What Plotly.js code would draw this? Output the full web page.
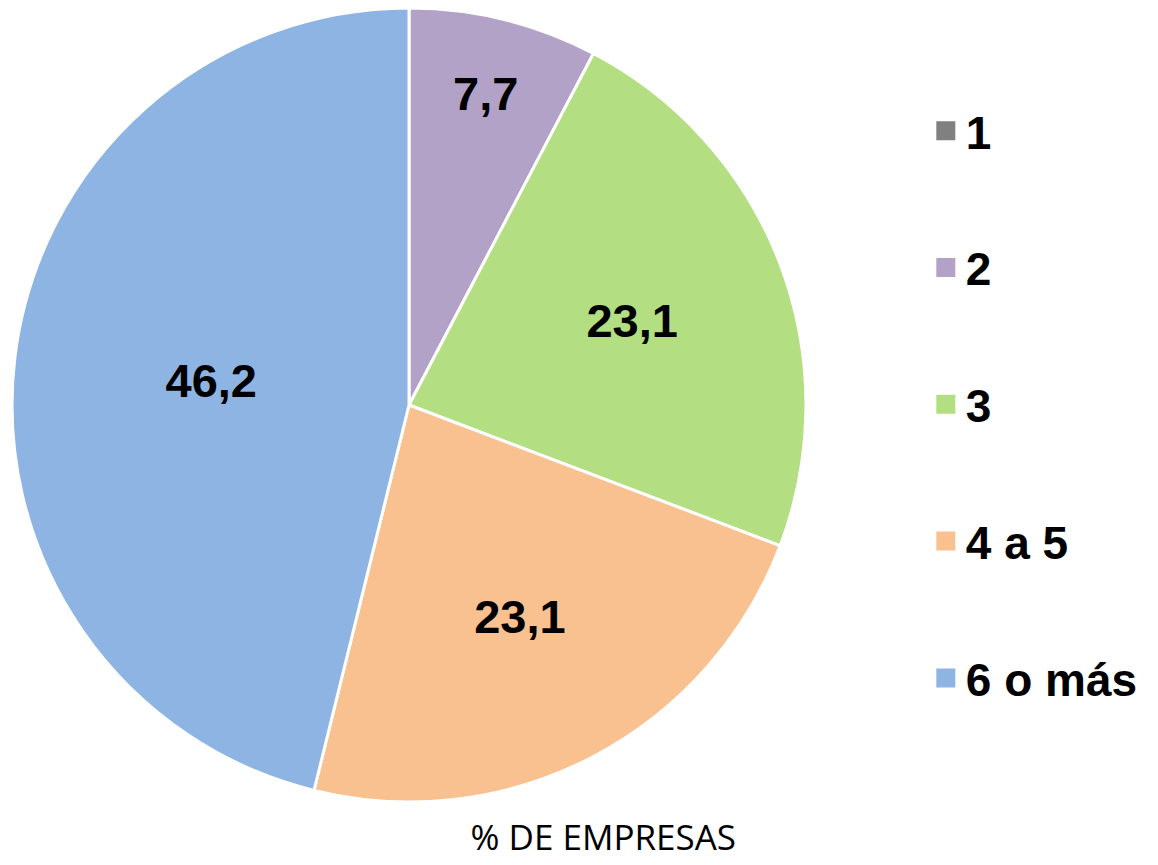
<!DOCTYPE html>
<html><head><meta charset="utf-8">
<script src="https://cdn.plot.ly/plotly-3.0.1.min.js"></script>
<style>html,body{margin:0;padding:0;background:#fff}</style>
</head><body>
<div id="chart" style="width:1158px;height:865px"></div>
<script>
const categories = ["1", "2", "3", "4 a 5", "6 o más"];
const values = [0, 7.7, 23.1, 23.1, 46.2];
const valueLabels = ["", "7,7", "23,1", "23,1", "46,2"];
const colors = ["#808080", "#B3A2C7", "#B3DE81", "#F9C090", "#8EB4E3"];
const axisTitle = "% DE EMPRESAS";

const pie = {
  type: "pie",
  labels: categories,
  values: values,
  text: valueLabels,
  textinfo: "text",
  textposition: "inside",
  insidetextorientation: "horizontal",
  sort: false,
  direction: "clockwise",
  rotation: 0,
  showlegend: false,
  marker: {colors: colors, line: {color: "#ffffff", width: 3}},
  textfont: {family: "Liberation Sans, Arial, sans-serif", size: 47, color: "#000000", weight: "bold"},
  domain: {x: [0.0104, 0.696], y: [0.0728, 0.9908]},
  hoverinfo: "label+value"
};

const legendTraces = categories.map((c, i) => ({
  type: "scatter",
  mode: "markers",
  x: [null], y: [null],
  name: c,
  legendgroup: "g" + i,
  marker: {symbol: "square", size: 16, color: colors[i], line: {color: colors[i], width: 3}},
  hoverinfo: "skip"
}));

const layout = {
  width: 1158, height: 865,
  margin: {l: 0, r: 0, t: 0, b: 0},
  paper_bgcolor: "#ffffff",
  plot_bgcolor: "rgba(0,0,0,0)",
  xaxis: {visible: false, domain: [0.8, 1]},
  yaxis: {visible: false},
  showlegend: true,
  legend: {
    x: 0.7995, y: 0.891, xanchor: "left", yanchor: "top",
    tracegroupgap: 74,
    font: {family: "Liberation Sans, Arial, sans-serif", size: 46, color: "#000000", weight: "bold"},
    itemclick: false, itemdoubleclick: false
  },
  title: {
    text: axisTitle,
    x: 0.521, xref: "paper", xanchor: "center",
    y: 0.031, yref: "paper", yanchor: "middle",
    font: {family: "Open Sans, Noto Sans, sans-serif", size: 35, color: "#000000"}
  }
};

Plotly.newPlot("chart", [pie].concat(legendTraces), layout, {displayModeBar: false, staticPlot: true});
</script>
</body></html>
